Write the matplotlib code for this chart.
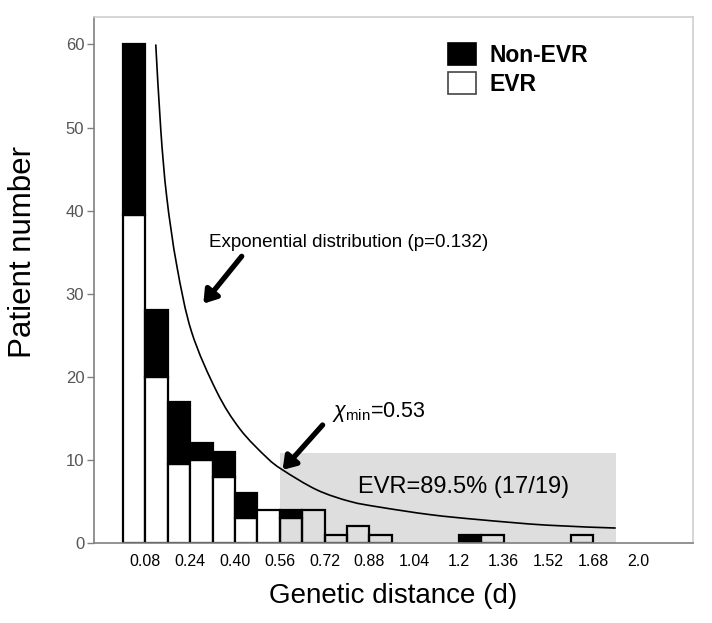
import matplotlib
matplotlib.use("Agg")
import matplotlib.pyplot as plt
from matplotlib.patches import Patch, Rectangle, PathPatch
from matplotlib.path import Path

plt.rcParams['font.family'] = ['Liberation Sans', 'DejaVu Sans']
plt.rcParams['mathtext.fontset'] = 'custom'
plt.rcParams['mathtext.rm'] = 'Liberation Sans'
plt.rcParams['mathtext.it'] = 'Liberation Sans:italic'

# ---- data ----
bin_width = 0.08
bin_left = [0.00, 0.08, 0.16, 0.24, 0.32, 0.40, 0.48, 0.56, 0.64, 0.72, 0.80,
            0.88, 0.96, 1.04, 1.12, 1.20, 1.28, 1.36, 1.44, 1.52, 1.60, 1.68]
evr = [39.5, 20, 9.5, 10, 8, 3, 4, 3, 4, 1, 2, 1, 0, 0, 0, 0, 1, 0, 0, 0, 1, 0]
non_evr = [20.5, 8, 7.5, 2, 3, 3, 0, 1, 0, 0, 0, 0, 0, 0, 0, 1, 0, 0, 0, 0, 0, 0]

# points
curve_d = [0.117, 0.135, 0.156, 0.192, 0.245, 0.335, 0.418, 0.513, 0.570,
           0.692, 0.811, 0.92, 1.10, 1.275, 1.513, 1.76]
curve_n = [60.0, 49.7, 41.7, 33.4, 25.4, 18.2, 13.7, 10.3, 8.8,
           6.4, 5.0, 4.3, 3.4, 2.8, 2.15, 1.8]

xtick_pos = [0.08, 0.24, 0.40, 0.56, 0.72, 0.88, 1.04, 1.20, 1.36, 1.52, 1.68, 1.84]
xtick_lab = ['0.08', '0.24', '0.40', '0.56', '0.72', '0.88', '1.04', '1.2', '1.36',
             '1.52', '1.68', '2.0']
yticks = [0, 10, 20, 30, 40, 50, 60]

chi_min = 0.56
region_end = 1.76
region_top = 10.8

# ---- figure ----
fig = plt.figure(figsize=(7.12, 6.23), dpi=100)
ax = fig.add_axes([94/712, 1-543/623, (693-94)/712, (543-17)/623])
ax.set_xlim(-0.1036, 2.036)
ax.set_ylim(0, 63.3)

ax.add_patch(Rectangle((chi_min, 0), region_end - chi_min, region_top,
                       facecolor='#dedede', edgecolor='none', zorder=0))

white_fc = ['none' if x >= chi_min - 1e-9 else 'white' for x in bin_left]
for x, w, b, fc in zip(bin_left, evr, non_evr, white_fc):
    if w > 0:
        ax.bar(x, w, width=bin_width, align='edge', bottom=0, facecolor=fc,
               edgecolor='black', linewidth=1.6, zorder=2)
    if b > 0:
        ax.bar(x, b, width=bin_width, align='edge', bottom=w, facecolor='black',
               edgecolor='black', linewidth=1.6, zorder=2)

# smooth rendering (Catmull-Rom -> Bezier) through the read points
pts = list(zip(curve_d, curve_n))
ext = [pts[0]] + pts + [pts[-1]]
verts = [pts[0]]
codes = [Path.MOVETO]
for i in range(1, len(ext) - 2):
    p0, p1, p2, p3 = ext[i - 1], ext[i], ext[i + 1], ext[i + 2]
    c1 = (p1[0] + (p2[0] - p0[0]) / 6, p1[1] + (p2[1] - p0[1]) / 6)
    c2 = (p2[0] - (p3[0] - p1[0]) / 6, p2[1] - (p3[1] - p1[1]) / 6)
    verts += [c1, c2, p2]
    codes += [Path.CURVE4] * 3
ax.add_patch(PathPatch(Path(verts, codes), facecolor='none', edgecolor='black',
                       lw=1.2, zorder=3))

ax.set_xticks(xtick_pos)
ax.set_xticklabels(xtick_lab, fontsize=11.5)
ax.tick_params(axis='x', length=0, pad=8)
ax.set_yticks(yticks)
ax.tick_params(axis='y', length=5, width=1, color='#808080', labelcolor='#555555',
               labelsize=12, direction='out', pad=2)

for s in ['top', 'right']:
    ax.spines[s].set_color('#d0d0d0')
for s in ['left', 'bottom']:
    ax.spines[s].set_color('#808080')
for s in ax.spines.values():
    s.set_linewidth(1.2)

ax.set_ylabel('Patient number', fontsize=22.5)
ax.yaxis.set_label_coords(-0.094, 0.553)
ax.set_xlabel('Genetic distance (d)', fontsize=20, labelpad=10)

# annotations
ax.text(0.307, 36.2, 'Exponential distribution (p=0.132)', fontsize=13.5,
        va='center', ha='left')
ax.annotate('', xy=(0.287, 28.8), xytext=(0.424, 34.5),
            arrowprops=dict(arrowstyle='-|>,head_length=0.75,head_width=0.5',
                            lw=3.8, color='black', shrinkA=0, shrinkB=0))
ax.text(0.746, 15.8, r'$\chi_{\mathrm{min}}$=0.53', fontsize=15.5, va='center', ha='left')
ax.annotate('', xy=(0.570, 8.8), xytext=(0.713, 14.2),
            arrowprops=dict(arrowstyle='-|>,head_length=0.75,head_width=0.5',
                            lw=3.8, color='black', shrinkA=0, shrinkB=0))
ax.text(1.217, 6.7, 'EVR=89.5% (17/19)', fontsize=17, va='center', ha='center')

handles = [Patch(facecolor='black', edgecolor='black', linewidth=1.2),
           Patch(facecolor='white', edgecolor='#444444', linewidth=1.2)]
leg = ax.legend(handles, ['Non-EVR', 'EVR'], loc='upper left',
                bbox_to_anchor=((448-94)/599, 1-(43-17)/526), frameon=False,
                borderpad=0, borderaxespad=0, handlelength=1.22, handleheight=1.09,
                handletextpad=0.57, labelspacing=0.25,
                prop={'weight': 'bold', 'size': 16.5})

fig.savefig('out.png', dpi=100)
